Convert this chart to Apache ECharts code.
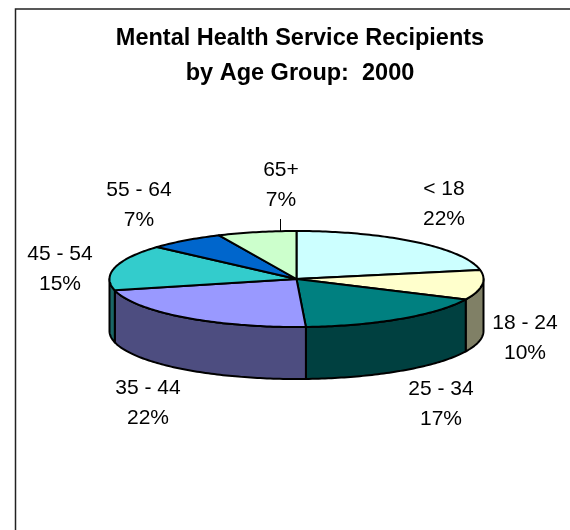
<!DOCTYPE html>
<html>
<head>
<meta charset="utf-8">
<style>html,body{margin:0;padding:0;background:#fff}#c{width:570px;height:530px}</style>
<script src="https://cdn.jsdelivr.net/npm/echarts@6/dist/echarts.min.js"></script>
</head>
<body>
<div id="c"></div>
<script>
const categories = ['< 18', '18 - 24', '25 - 34', '35 - 44', '45 - 54', '55 - 64', '65+'];
const percents = [22, 10, 17.2, 22, 15.4, 6.6, 6.8];
const topColors = ['#CCFFFF', '#FFFFCC', '#008080', '#9999FF', '#33CCCC', '#0066CC', '#CCFFCC'];
const sideColors = ['#666680', '#808066', '#004040', '#4D4D80', '#1A6666', '#003366', '#668066'];

// Layout of the tilted pie
const CX = 296.5, CY = 279, RX = 187, RY = 48, DEPTH = 52;
const labelCenters = [[444, 204], [525, 338], [441, 404], [148, 403], [60, 269], [139, 205], [281, 185]];
const FONT = '"Liberation Sans", Arial, sans-serif';

const total = percents.reduce((a, b) => a + b, 0);
function startAngle(i) {
  let s = 0;
  for (let k = 0; k < i; k++) s += percents[k];
  return s / total * 360;
}
function pt(deg, dy) {
  const r = deg * Math.PI / 180;
  return [CX + RX * Math.sin(r), CY - RY * Math.cos(r) + (dy || 0)];
}
function arc(a0, a1, dy) {
  const out = [];
  for (let a = a0; a < a1; a += 1) out.push(pt(a, dy));
  out.push(pt(a1, dy));
  return out;
}
const stroke = { stroke: '#000', lineWidth: 2, lineJoin: 'round' };

function renderSide(params, api) {
  const i = params.dataIndex;
  const a0 = Math.max(startAngle(i), 90);
  const a1 = Math.min(startAngle(i) + api.value(0) / total * 360, 270);
  if (a1 <= a0) return { type: 'group', children: [] };
  const pts = arc(a0, a1, 0).concat(arc(a0, a1, DEPTH).reverse());
  return {
    type: 'polygon',
    shape: { points: pts },
    style: Object.assign({ fill: sideColors[i] }, stroke)
  };
}
function renderTop(params, api) {
  const i = params.dataIndex;
  const a0 = startAngle(i);
  const a1 = a0 + api.value(0) / total * 360;
  const pts = [[CX, CY]].concat(arc(a0, a1, 0));
  return {
    type: 'polygon',
    shape: { points: pts },
    style: Object.assign({ fill: topColors[i] }, stroke)
  };
}
function renderLabel(params, api) {
  const i = params.dataIndex;
  return {
    type: 'text',
    x: labelCenters[i][0],
    y: labelCenters[i][1],
    style: {
      text: categories[i] + '\n' + Math.round(api.value(0)) + '%',
      fill: '#000',
      font: '21px ' + FONT,
      lineHeight: 29.5,
      align: 'center',
      verticalAlign: 'middle'
    }
  };
}

const chart = echarts.init(document.getElementById('c'), null, { renderer: 'canvas' });
chart.setOption({
  animation: false,
  backgroundColor: '#fff',
  title: {
    text: 'Mental Health Service Recipients\nby Age Group:  2000',
    left: 295, top: 16, textAlign: 'center',
    textStyle: { fontFamily: FONT, fontSize: 23.5, fontWeight: 'bold', color: '#000', lineHeight: 35 }
  },
  graphic: [
    { type: 'polyline', shape: { points: [[15.5, 530], [15.5, 9], [570, 9]] },
      style: { stroke: '#222', lineWidth: 1.5, fill: null }, z: 1 },
    { type: 'line', shape: { x1: 280.5, y1: 219, x2: 280.5, y2: 232 },
      style: { stroke: '#000', lineWidth: 1 }, z: 1 }
  ],
  series: [
    { type: 'custom', coordinateSystem: 'none', renderItem: renderSide, data: percents, z: 2, silent: true },
    { type: 'custom', coordinateSystem: 'none', renderItem: renderTop, data: percents, z: 3, silent: true },
    { type: 'custom', coordinateSystem: 'none', renderItem: renderLabel, data: percents, z: 4, silent: true }
  ]
});
</script>
</body>
</html>
